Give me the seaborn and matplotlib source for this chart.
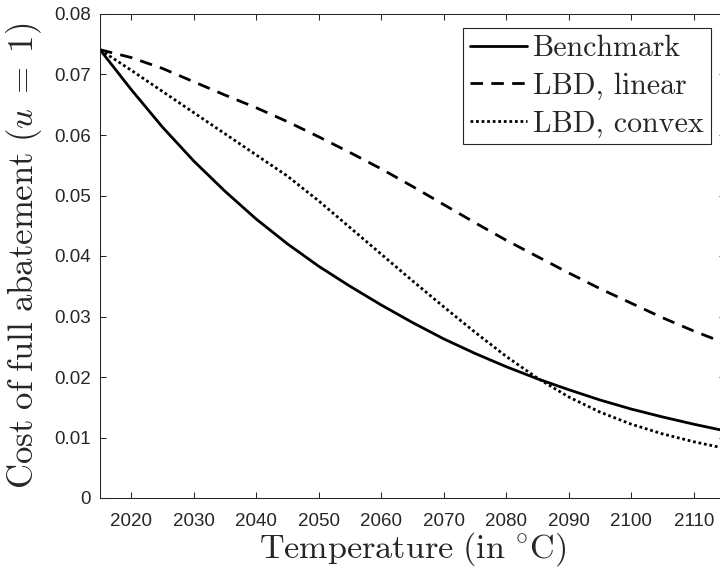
import numpy as np
import pandas as pd
import matplotlib
matplotlib.use("Agg")
import matplotlib.pyplot as plt
import seaborn as sns

# Cost of full abatement over time for three scenarios
years = [2015, 2020, 2025, 2030, 2035, 2040, 2045, 2050, 2055, 2060, 2065,
         2070, 2075, 2080, 2085, 2090, 2095, 2100, 2105, 2110, 2115]
benchmark = [0.0741, 0.0675, 0.0613, 0.0557, 0.0507, 0.0461, 0.0420, 0.0383,
             0.0350, 0.0319, 0.0290, 0.0263, 0.0239, 0.0217, 0.0197, 0.0179,
             0.0162, 0.0147, 0.0134, 0.0122, 0.0111]
lbd_linear = [0.0741, 0.0728, 0.0710, 0.0688, 0.0666, 0.0645, 0.0622, 0.0597,
              0.0571, 0.0544, 0.0515, 0.0485, 0.0455, 0.0426, 0.0399, 0.0372,
              0.0346, 0.0322, 0.0298, 0.0276, 0.0256]
lbd_convex = [0.0741, 0.0707, 0.0672, 0.0637, 0.0602, 0.0567, 0.0532, 0.0491,
              0.0447, 0.0403, 0.0359, 0.0316, 0.0274, 0.0234, 0.0198, 0.0167,
              0.0142, 0.0122, 0.0106, 0.0093, 0.0082]

series_names = ["Benchmark", "LBD, linear", "LBD, convex"]
xticks = [2020, 2030, 2040, 2050, 2060, 2070, 2080, 2090, 2100, 2110]
yticks = [0, 0.01, 0.02, 0.03, 0.04, 0.05, 0.06, 0.07, 0.08]
ytick_labels = ["0", "0.01", "0.02", "0.03", "0.04", "0.05", "0.06", "0.07", "0.08"]

df = pd.DataFrame({
    "year": years * 3,
    "cost": benchmark + lbd_linear + lbd_convex,
    "series": np.repeat(series_names, len(years)),
})

sns.set_style("ticks")
plt.rcParams["font.family"] = ["Liberation Sans", "DejaVu Sans"]
plt.rcParams["mathtext.fontset"] = "cm"

ink = "#262626"

fig = plt.figure(figsize=(7.2, 5.68), dpi=100)
ax = fig.add_axes([100 / 720, 70 / 568, 625 / 720, 484 / 568])

sns.lineplot(
    data=df, x="year", y="cost",
    style="series", style_order=series_names,
    dashes={"Benchmark": "", "LBD, linear": (4.5, 3.0), "LBD, convex": (1.0, 1.0)},
    color="black", linewidth=2.0, estimator=None, legend=False, ax=ax,
)

ax.set_xlim(2015, 2115)
ax.set_ylim(0, 0.08)
ax.set_xticks(xticks)
ax.set_xticklabels([str(t) for t in xticks])
ax.set_yticks(yticks)
ax.set_yticklabels(ytick_labels)

ax.tick_params(axis="both", direction="in", length=4.5, width=0.75,
               top=True, right=True, color=ink, labelcolor=ink, labelsize=13.5)
ax.tick_params(axis="x", pad=11)
ax.tick_params(axis="y", pad=6.5)
for sp in ax.spines.values():
    sp.set_color(ink)
    sp.set_linewidth(0.75)

ax.set_xlabel(r"$\mathrm{Temperature\ (in\ }^{\circ}\mathrm{C)}$", fontsize=24.6, color=ink)
ax.set_ylabel(r"$\mathrm{Cost\ of\ full\ abatement\ }(u\;=\;1)$", fontsize=25, color=ink)
ax.xaxis.set_label_coords(0.5, -0.066)
ax.yaxis.set_label_coords(-0.090, 0.5)

leg = ax.legend(
    ax.lines[:3], series_names, loc="upper right",
    prop={"family": "cmr10", "size": 21.5},
    frameon=True, fancybox=False, framealpha=1, edgecolor=ink,
    borderpad=0.22, labelspacing=0.34, handlelength=1.9,
    handletextpad=0.22, borderaxespad=0.48,
)
leg.get_frame().set_linewidth(0.8)

fig.savefig("out.png", dpi=100)
